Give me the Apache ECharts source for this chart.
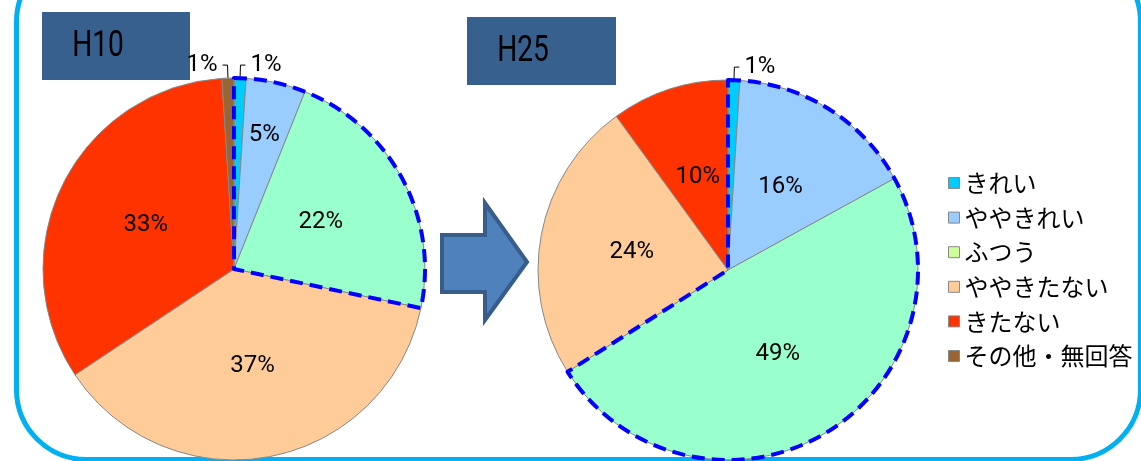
<!DOCTYPE html>
<html>
<head>
<meta charset="utf-8">
<script src="https://cdn.jsdelivr.net/npm/echarts@6/dist/echarts.min.js"></script>
<style>
  html, body { margin: 0; padding: 0; background: #fff; }
  #chart { width: 1141px; height: 461px; }
</style>
</head>
<body>
<div id="chart"></div>
<script>
// Survey categories (clean -> dirty) and the share of answers per survey year
const categories = ['きれい', 'ややきれい', 'ふつう', 'ややきたない', 'きたない', 'その他・無回答'];
const h10Values = [1, 5, 22, 37, 33, 1];
const h25Values = [1, 16, 49, 24, 10, 0];
const yearTitles = ['H10', 'H25'];

// Slice fills and the swatches shown in the legend
const sliceColors = ['#00CCFF', '#99CCFF', '#99FFCC', '#FFCC99', '#FF3300', '#996633'];
const legendColors = ['#00CCFF', '#99CCFF', '#CCFF99', '#FFCC99', '#FF3300', '#996633'];

// The first three categories ("clean" side) get a dashed outline
const cleanCount = 3;

const numFont = "Roboto, 'Liberation Sans', sans-serif";
const jpFont = "'Noto Sans CJK JP', 'Noto Sans', sans-serif";

function sum(arr) { return arr.reduce((a, b) => a + b, 0); }

function pieData(values) {
  return values.map((v, i) => {
    const item = { name: categories[i], value: v, itemStyle: { color: sliceColors[i] } };
    if (v === 0) {
      item.label = { show: false };
      item.labelLine = { show: false };
      item.itemStyle.borderWidth = 0;
    } else if (v <= 1) {
      item.label = { position: 'outside' };
      item.labelLine = { show: true, length: 13, length2: 5, lineStyle: { color: '#000', width: 1 } };
    }
    return item;
  });
}

function outlineData(values) {
  const clean = sum(values.slice(0, cleanCount));
  const rest = sum(values.slice(cleanCount));
  return [
    { name: 'clean', value: clean,
      itemStyle: { color: 'rgba(0,0,0,0)', borderColor: '#0000FF', borderWidth: 4, borderType: [13, 7] } },
    { name: 'rest', value: rest,
      itemStyle: { color: 'rgba(0,0,0,0)', borderWidth: 0 } }
  ];
}

// Narrow slices that still carry an inside label get it pushed out towards the rim
function narrowSliceLayout(values, center, radius) {
  const total = sum(values);
  return function (params) {
    const i = params.dataIndex;
    const v = values[i];
    const share = v / total;
    if (v <= 1 || share >= 0.08) return {};
    const before = sum(values.slice(0, i));
    const mid = (before + v / 2) / total * Math.PI * 2; // clockwise from 12 o'clock
    const rr = radius * 0.72;
    return { x: center[0] + Math.sin(mid) * rr, y: center[1] - Math.cos(mid) * rr };
  };
}

function pieSeries(values, center, radius) {
  return [
    {
      type: 'pie',
      center: center,
      radius: radius,
      startAngle: 90,
      clockwise: true,
      animation: false,
      silent: true,
      avoidLabelOverlap: false,
      itemStyle: { borderColor: '#888', borderWidth: 1 },
      label: {
        show: true,
        position: 'inside',
        formatter: '{c}%',
        color: '#000',
        fontSize: 24,
        fontFamily: numFont
      },
      labelLine: { show: false },
      labelLayout: narrowSliceLayout(values, center, radius),
      emphasis: { disabled: true },
      data: pieData(values)
    },
    {
      type: 'pie',
      center: center,
      radius: radius,
      startAngle: 90,
      clockwise: true,
      animation: false,
      silent: true,
      z: 3,
      label: { show: false },
      labelLine: { show: false },
      emphasis: { disabled: true },
      data: outlineData(values)
    }
  ];
}

const chart = echarts.init(document.getElementById('chart'), null, { renderer: 'canvas' });

const titleStyle = { fill: '#000', font: '37px ' + numFont, align: 'center', verticalAlign: 'middle' };

const option = {
  backgroundColor: '#fff',
  animation: false,
  legend: {
    orient: 'vertical',
    left: 943,
    top: 166,
    icon: 'rect',
    itemWidth: 11,
    itemHeight: 11,
    itemGap: 10.6,
    selectedMode: false,
    textStyle: { fontSize: 24, lineHeight: 24, color: '#000', fontFamily: jpFont },
    data: categories.map((n, i) => ({
      name: n,
      itemStyle: { color: legendColors[i], borderColor: '#888', borderWidth: 1 }
    }))
  },
  graphic: [
    // frame around the whole figure
    { type: 'rect', z: 0, silent: true,
      shape: { x: 16.5, y: -48, width: 1124, height: 507.5, r: 70 },
      style: { fill: 'none', stroke: '#00B0F0', lineWidth: 5 } },
    // year badges
    { type: 'rect', z: 1, silent: true,
      shape: { x: 42, y: 12, width: 148, height: 68 },
      style: { fill: '#37608F' } },
    { type: 'text', z: 1, silent: true, x: 98, y: 47, scaleX: 0.76,
      style: Object.assign({ text: yearTitles[0] }, titleStyle) },
    { type: 'rect', z: 1, silent: true,
      shape: { x: 467, y: 17, width: 149, height: 68 },
      style: { fill: '#37608F' } },
    { type: 'text', z: 1, silent: true, x: 523, y: 52, scaleX: 0.76,
      style: Object.assign({ text: yearTitles[1] }, titleStyle) },
    // arrow between the two years
    { type: 'polygon', z: 1, silent: true,
      shape: { points: [[442, 235], [485, 235], [485, 203], [527, 262], [485, 320], [485, 292], [442, 292]] },
      style: { fill: '#4F81BD', stroke: '#385D8A', lineWidth: 4, lineJoin: 'miter' } }
  ],
  series: [
    ...pieSeries(h10Values, [234, 269], 191),
    ...pieSeries(h25Values, [728, 270], 190)
  ]
};

chart.setOption(option);
</script>
</body>
</html>
